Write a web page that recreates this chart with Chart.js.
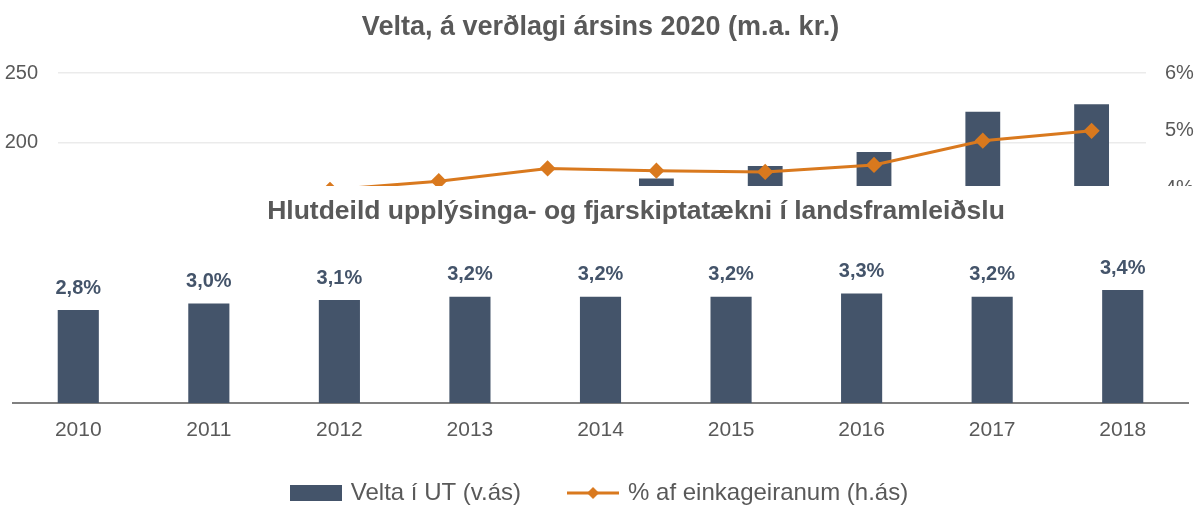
<!DOCTYPE html>
<html>
<head>
<meta charset="utf-8">
<script src="https://cdn.jsdelivr.net/npm/chart.js@4/dist/chart.umd.min.js"></script>
<style>
  html,body{margin:0;padding:0;background:#fff;overflow:hidden;}
  #wrap{position:relative;width:1202px;height:506px;overflow:hidden;}
  #top{position:absolute;left:0;top:0;width:1202px;height:515px;}
  #bot{position:absolute;left:0;top:186px;width:1202px;height:284px;background:#fff;}
</style>
</head>
<body>
<div id="wrap">
  <div id="top"><canvas id="veltaChart"></canvas></div>
  <div id="bot"><canvas id="shareChart"></canvas></div>
</div>
<script>
// top chart (partly covered by the second one)
const veltaTitle = 'Velta, á verðlagi ársins 2020 (m.a. kr.)';
const veltaYears = ['2009','2010','2011','2012','2013','2014','2015','2016','2017','2018'];
const veltaUT = [140, 146, 152, 158, 165, 174, 183, 193, 222, 227.5];
const pctEinkageiri = [3.6, 3.8, 3.98, 4.13, 4.35, 4.31, 4.29, 4.41, 4.83, 5.0];
const veltaLabel = 'Velta í UT (v.ás)';
const pctLabel = '% af einkageiranum (h.ás)';

// bottom chart
const shareTitle = 'Hlutdeild upplýsinga- og fjarskiptatækni í landsframleiðslu';
const shareYears = ['2010','2011','2012','2013','2014','2015','2016','2017','2018'];
const shareValues = [2.8, 3.0, 3.1, 3.2, 3.2, 3.2, 3.3, 3.2, 3.4];

const NAVY = '#44546A';
const ORANGE = '#D9791E';
const GREY = '#595959';
const FONT = "'Liberation Sans', Arial, sans-serif";

Chart.defaults.font.family = FONT;
Chart.defaults.color = GREY;
Chart.defaults.animation = false;

// ------ legend swatches ------
function swatch(kind){
  const c = document.createElement('canvas');
  c.width = 52; c.height = 18;
  const g = c.getContext('2d');
  if(kind==='bar'){
    g.fillStyle = NAVY; g.fillRect(0,1,52,16);
  } else {
    g.strokeStyle = ORANGE; g.lineWidth = 3;
    g.beginPath(); g.moveTo(0,9); g.lineTo(52,9); g.stroke();
    g.fillStyle = ORANGE;
    g.beginPath(); g.moveTo(26,3); g.lineTo(32,9); g.lineTo(26,15); g.lineTo(20,9); g.closePath(); g.fill();
  }
  return c;
}
const barSwatch = swatch('bar');
const lineSwatch = swatch('line');

// ------ Velta chart ------
new Chart(document.getElementById('veltaChart'), {
  data: {
    labels: veltaYears,
    datasets: [
      {type:'line', label:pctLabel, data:pctEinkageiri, yAxisID:'y1',
       borderColor:ORANGE, backgroundColor:ORANGE, borderWidth:3,
       pointStyle:'rectRot', pointRadius:6, pointHoverRadius:6, tension:0},
      {type:'bar', label:veltaLabel, data:veltaUT, yAxisID:'y',
       backgroundColor:NAVY, barPercentage:0.32, categoryPercentage:1}
    ]
  },
  options: {
    responsive:true, maintainAspectRatio:false,
    layout:{padding:{left:5, right:6, top:0, bottom:0}},
    plugins:{
      title:{display:true, text:veltaTitle, color:GREY,
             font:{size:27, weight:'bold'}, padding:{top:11, bottom:29.6}},
      legend:{position:'bottom',
        labels:{usePointStyle:true, pointStyleWidth:46, padding:49,
                font:{size:24}, color:GREY,
                generateLabels:()=>[
                  {text:veltaLabel, pointStyle:barSwatch, datasetIndex:1, fontColor:GREY, lineWidth:0},
                  {text:pctLabel, pointStyle:lineSwatch, datasetIndex:0, fontColor:GREY, lineWidth:0}
                ]}},
      tooltip:{enabled:false}
    },
    scales:{
      x:{grid:{display:false, drawTicks:false}, border:{display:false},
         ticks:{font:{size:12}, padding:0, color:GREY},
         afterFit:s=>{s.height = 12;}},
      y:{position:'left', min:0, max:250,
         ticks:{stepSize:50, padding:20, font:{size:20}, color:GREY},
         grid:{color:'#EBEBEB', lineWidth:1.5, drawTicks:false}, border:{display:false},
         afterFit:s=>{s.width = 53;}},
      y1:{position:'right', min:0, max:6,
          ticks:{stepSize:1, padding:19, font:{size:20}, color:GREY, callback:v=>v+'%'},
          grid:{display:false, drawTicks:false}, border:{display:false},
          afterFit:s=>{s.width = 50;}}
    }
  }
});

// ------ Hlutdeild chart ------
// title sits right of centre in the source, so it is drawn here
const shareDecor = {
  id:'shareDecor',
  afterDatasetsDraw(chart){
    const ctx = chart.ctx;
    const meta = chart.getDatasetMeta(0);
    ctx.save();
    ctx.textAlign = 'center';
    ctx.textBaseline = 'middle';
    ctx.font = 'bold 26.5px ' + FONT;
    ctx.fillStyle = GREY;
    ctx.fillText(shareTitle, 636, 26);
    ctx.font = 'bold 20px ' + FONT;
    ctx.fillStyle = NAVY;
    meta.data.forEach((bar,i)=>{
      ctx.fillText(shareValues[i].toFixed(1).replace('.',',')+'%', bar.x, bar.y-22);
    });
    ctx.restore();
  }
};

new Chart(document.getElementById('shareChart'), {
  type:'bar',
  data:{
    labels: shareYears,
    datasets:[{data:shareValues, backgroundColor:NAVY, barPercentage:0.315, categoryPercentage:1}]
  },
  options:{
    responsive:true, maintainAspectRatio:false,
    layout:{padding:{left:13, right:14, top:51, bottom:30}},
    plugins:{
      legend:{display:false},
      tooltip:{enabled:false}
    },
    scales:{
      x:{grid:{display:false, drawTicks:false}, border:{display:true, color:'#808080', width:2},
         ticks:{font:{size:21}, padding:15, color:GREY},
         afterFit:s=>{s.height = 37;}},
      y:{display:false, min:0, max:5}
    }
  },
  plugins:[shareDecor]
});
</script>
</body>
</html>
